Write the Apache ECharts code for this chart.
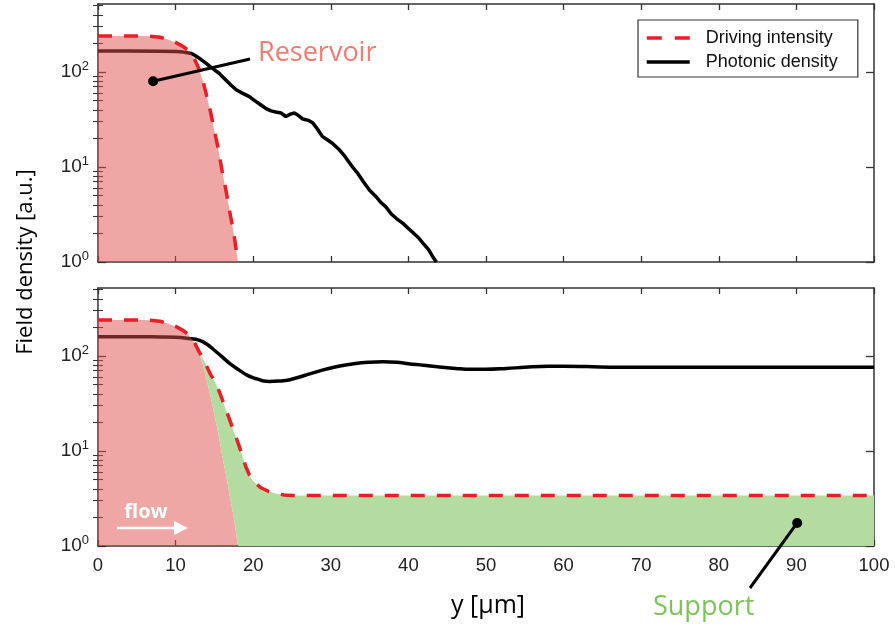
<!DOCTYPE html>
<html><head><meta charset="utf-8">
<script src="https://cdn.jsdelivr.net/npm/echarts@6/dist/echarts.min.js"></script>
<style>html,body{margin:0;padding:0;background:#fff}#c{width:895px;height:630px}</style>
</head><body><div id="c"></div>
<script>
// ---------- data ----------
const xTicks = [0, 10, 20, 30, 40, 50, 60, 70, 80, 90, 100];
const yMajor = [1, 10, 100];
const yMinor = [2, 3, 4, 5, 6, 7, 8, 9, 20, 30, 40, 50, 60, 70, 80, 90, 200, 300, 400, 500];
const legendNames = ['Driving intensity', 'Photonic density'];

// common x samples for the pump profiles
const pumpX = [0, 2, 4, 6, 7, 8, 9, 10, 11, 11.5, 12, 12.5, 13, 13.5, 14, 14.5, 15, 15.5, 16, 16.5, 17, 17.5, 18, 18.1, 18.5, 19, 19.5, 20, 21, 22, 23, 24, 25, 30, 40, 50, 60, 70, 80, 90, 100];
// reservoir pump (top-panel driving intensity); sits on the axis floor past its edge
const reservoir = [240, 240, 240, 239, 237, 232, 220, 205, 185, 172, 155, 133, 108, 82, 56, 38, 24, 15.5, 9, 5.6, 3.3, 2.0, 1.05, 1, 1, 1, 1, 1, 1, 1, 1, 1, 1, 1, 1, 1, 1, 1, 1, 1, 1];
// bottom-panel driving intensity (reservoir + support)
const drivingBottom = [240, 240, 240, 239, 237, 232, 220, 205, 185, 172, 155, 135, 112, 95, 78, 64, 55, 45, 35, 27, 21, 16, 12.5, 11.8, 9.5, 7, 5.6, 4.8, 4.1, 3.75, 3.55, 3.45, 3.4, 3.4, 3.4, 3.4, 3.4, 3.4, 3.4, 3.4, 3.4];
const reservoirEndX = 18.1;

// photonic density, top panel
const photonTopX = [0, 4, 8, 10, 11, 12, 12.4, 13.2, 13.9, 14.7, 15.6, 16.5, 17.2, 17.8, 18.6, 19.5, 20.5, 21.6, 22.3, 22.9, 23.6, 24.2, 24.8, 25.3, 25.8, 26.4, 27.1, 27.7, 28.3, 28.9, 29.5, 30.2, 31, 31.8, 32.8, 33.5, 34.2, 35, 35.8, 36.5, 37.1, 37.8, 38.5, 39.3, 40, 40.7, 41.3, 41.9, 42.6, 43.1, 43.6];
const photonTopY = [166, 166, 165, 164, 162, 157, 151, 137, 124, 110, 97, 82, 72, 65, 60, 55, 48, 41.5, 39, 38, 37, 34, 36, 37, 35, 32, 31, 29, 25, 21, 19.5, 17.8, 15.5, 13, 10, 8.5, 7, 5.7, 4.9, 4.2, 3.8, 3.2, 2.85, 2.55, 2.25, 2.0, 1.8, 1.57, 1.35, 1.15, 1.0];

// photonic density, bottom panel
const photonBotX = [0, 4, 8, 10, 11.7, 13, 14, 15, 16, 17, 18.2, 19.2, 20.3, 21.2, 22.1, 23.3, 24.6, 26.5, 28.9, 31, 33.2, 35, 36.7, 38.5, 40, 41.9, 44, 46.1, 48, 50, 52.6, 55, 58, 60, 63, 67, 70, 80, 90, 100];
const photonBotY = [160, 160, 159, 158, 153, 147, 134, 115, 98, 83, 71, 63, 58, 55, 54, 54.5, 56, 62, 71, 78, 83.5, 86, 87, 86, 83, 80, 76.5, 74, 72.5, 72.5, 74, 76, 78, 78, 77.5, 76, 76, 76, 76, 76];

// annotation anchor points (data coordinates)
const reservoirDot = [7.1, 80];
const supportDot = [90.1, 1.75];

// ---------- helpers ----------
const zip = (xs, ys) => xs.map((x, i) => [x, ys[i]]);
const FONT_NUM = 'Liberation Sans, Arial, Helvetica, sans-serif';
const FONT_TXT = 'Open Sans, Noto Sans, sans-serif';
const AX = '#333';
const RED = '#ee1c24';
const PINK = 'rgba(224,80,76,0.5)';
const GREEN = '#b5dca0';

function xAx(grid, pos, labels) {
  return {
    type: 'value', gridIndex: grid, position: pos, min: 0, max: 100, interval: 10,
    axisLine: { show: true, onZero: false, lineStyle: { color: AX, width: 1.5 } },
    axisTick: { show: true, inside: true, length: 6, lineStyle: { color: AX, width: 1.3 } },
    axisLabel: { show: labels, margin: 10, fontSize: 18.5, fontFamily: FONT_NUM, color: '#222', showMinLabel: true, showMaxLabel: true },
    splitLine: { show: false }
  };
}
function yMajAx(grid, pos, labels) {
  return {
    type: 'log', logBase: 10, gridIndex: grid, position: pos, min: 1, max: 520,
    axisLine: { show: true, onZero: false, lineStyle: { color: AX, width: 1.5 } },
    axisTick: { show: true, inside: true, length: 8, customValues: yMajor, lineStyle: { color: AX, width: 1.3 } },
    axisLabel: {
      show: labels, customValues: yMajor, margin: 9,
      formatter: v => '{a|10}{b|' + Math.round(Math.log10(v)) + '}',
      rich: {
        a: { fontSize: 19, fontFamily: FONT_NUM, color: '#222', lineHeight: 24 },
        b: { fontSize: 13, fontFamily: FONT_NUM, color: '#222', lineHeight: 13, verticalAlign: 'top' }
      }
    },
    splitLine: { show: false }
  };
}
function yMinAx(grid, pos) {
  return {
    type: 'log', logBase: 10, gridIndex: grid, position: pos, min: 1, max: 520,
    axisLine: { show: false },
    axisTick: { show: true, inside: true, length: 5, customValues: yMinor, lineStyle: { color: AX, width: 1.1 } },
    axisLabel: { show: false },
    splitLine: { show: false }
  };
}

const topPump = zip(pumpX, reservoir).filter(p => p[0] <= reservoirEndX);
const dashed = { color: RED, width: 3.5, type: [14, 12] };

const option = {
  animation: false,
  backgroundColor: '#fff',
  grid: [
    { left: 98, right: 21, top: 4, height: 258 },
    { left: 98, right: 21, top: 288, height: 258 }
  ],
  xAxis: [xAx(0, 'bottom', false), xAx(0, 'top', false), xAx(1, 'bottom', true), xAx(1, 'top', false)],
  yAxis: [yMajAx(0, 'left', true), yMajAx(0, 'right', false), yMinAx(0, 'left'), yMinAx(0, 'right'),
          yMajAx(1, 'left', true), yMajAx(1, 'right', false), yMinAx(1, 'left'), yMinAx(1, 'right')],
  legend: {
    data: [
      { name: legendNames[0], lineStyle: { width: 3.5, type: [15, 13] } },
      { name: legendNames[1], lineStyle: { width: 3.5 } }
    ],
    orient: 'vertical', left: 638, top: 20,
    backgroundColor: '#fff', borderColor: '#333', borderWidth: 1.2, borderRadius: 0,
    padding: [9, 20, 6, 7], itemGap: 6, itemWidth: 43, itemHeight: 14,
    itemStyle: { opacity: 0 },
    textStyle: { fontSize: 18, fontFamily: FONT_NUM, color: '#111', padding: [0, 0, 0, 11] },
    selectedMode: false
  },
  series: [
    // top panel
    { name: legendNames[1], type: 'line', xAxisIndex: 0, yAxisIndex: 0, data: zip(photonTopX, photonTopY),
      symbol: 'none', lineStyle: { color: '#000', width: 3.5 }, itemStyle: { color: '#000' }, z: 2 },
    { name: 'reservoir fill top', type: 'line', xAxisIndex: 0, yAxisIndex: 0, data: topPump,
      symbol: 'none', lineStyle: { width: 0, opacity: 0 },
      areaStyle: { color: PINK, origin: 'start', opacity: 1 }, z: 3 },
    { name: legendNames[0], type: 'line', xAxisIndex: 0, yAxisIndex: 0, data: topPump,
      symbol: 'none', lineStyle: dashed, itemStyle: { color: RED }, z: 4 },
    // bottom panel
    { name: legendNames[1], type: 'line', xAxisIndex: 2, yAxisIndex: 4, data: zip(photonBotX, photonBotY),
      symbol: 'none', smooth: 0.4, lineStyle: { color: '#000', width: 3.5 }, itemStyle: { color: '#000' }, z: 2 },
    { name: 'reservoir fill bottom', type: 'line', xAxisIndex: 2, yAxisIndex: 4, data: zip(pumpX, reservoir),
      symbol: 'none', lineStyle: { width: 0, opacity: 0 },
      areaStyle: { color: PINK, origin: 'start', opacity: 1 }, z: 3 },
    { name: 'support fill', type: 'custom', xAxisIndex: 2, yAxisIndex: 4, data: [[50, 2]], z: 3, silent: true, clip: true,
      renderItem: (params, api) => {
        const k = Math.max(0, pumpX.findIndex((x, i) => drivingBottom[i] > reservoir[i]) - 1);
        const pts = [];
        for (let i = k; i < pumpX.length; i++) pts.push(api.coord([pumpX[i], drivingBottom[i]]));
        for (let i = pumpX.length - 1; i >= k; i--) pts.push(api.coord([pumpX[i], reservoir[i]]));
        return { type: 'polygon', shape: { points: pts }, style: { fill: GREEN } };
      } },
    { name: legendNames[0], type: 'line', xAxisIndex: 2, yAxisIndex: 4, data: zip(pumpX, drivingBottom),
      symbol: 'none', lineStyle: dashed, itemStyle: { color: RED }, z: 4 }
  ]
};

const chart = echarts.init(document.getElementById('c'), null, { renderer: 'canvas' });
chart.setOption(option);

const p1 = chart.convertToPixel({ xAxisIndex: 0, yAxisIndex: 0 }, reservoirDot);
const p2 = chart.convertToPixel({ xAxisIndex: 2, yAxisIndex: 4 }, supportDot);

chart.setOption({
  graphic: [
    { type: 'line', shape: { x1: p1[0], y1: p1[1], x2: 250, y2: 59 }, style: { stroke: '#000', lineWidth: 3 }, z: 100 },
    { type: 'circle', shape: { cx: p1[0], cy: p1[1], r: 5 }, style: { fill: '#000' }, z: 100 },
    { type: 'text', x: 258, y: 53, style: { text: 'Reservoir', fill: '#f47b70', font: '27px ' + FONT_TXT, align: 'left', verticalAlign: 'middle' }, z: 100 },
    { type: 'line', shape: { x1: p2[0], y1: p2[1], x2: 750, y2: 588 }, style: { stroke: '#000', lineWidth: 3 }, z: 100 },
    { type: 'circle', shape: { cx: p2[0], cy: p2[1], r: 5 }, style: { fill: '#000' }, z: 100 },
    { type: 'text', x: 653, y: 607, style: { text: 'Support', fill: '#7dc35b', font: '27px ' + FONT_TXT, align: 'left', verticalAlign: 'middle' }, z: 100 },
    { type: 'text', x: 146, y: 512, style: { text: 'flow', fill: '#fff', font: 'bold 20px ' + FONT_TXT, align: 'center', verticalAlign: 'middle' }, z: 100 },
    { type: 'line', shape: { x1: 117, y1: 528, x2: 176, y2: 528 }, style: { stroke: '#fff', lineWidth: 2.5 }, z: 100 },
    { type: 'polygon', shape: { points: [[174, 521], [188, 528], [174, 535]] }, style: { fill: '#fff' }, z: 100 },
    { type: 'text', x: 26, y: 262, rotation: Math.PI / 2, style: { text: 'Field density [a.u.]', fill: '#000', font: '22px ' + FONT_TXT, align: 'center', verticalAlign: 'middle' }, z: 100 },
    { type: 'text', x: 488, y: 606, style: { text: 'y [µm]', fill: '#000', font: '25px ' + FONT_TXT, align: 'center', verticalAlign: 'middle' }, z: 100 }
  ]
});
</script>
</body></html>
